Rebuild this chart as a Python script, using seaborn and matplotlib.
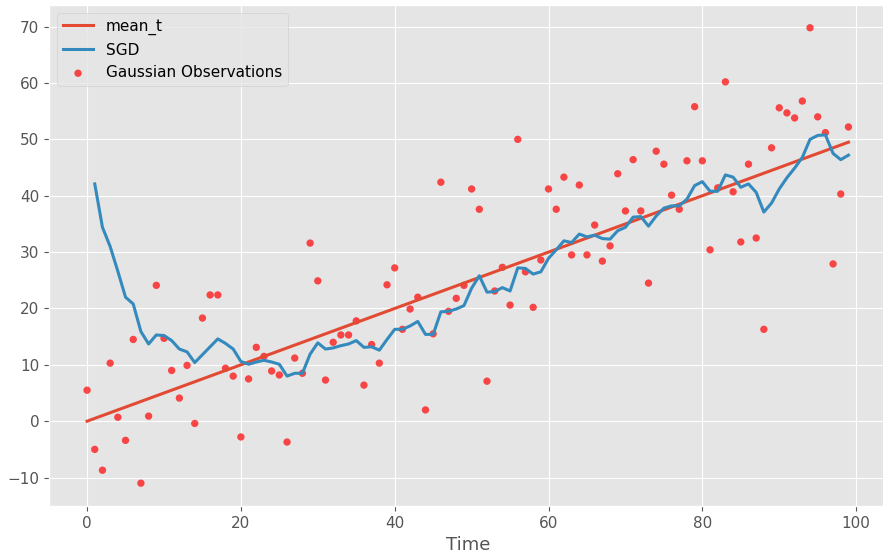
"""
SGD tracking of a drifting mean vs gaussian observations
"""
import numpy as np
import matplotlib
matplotlib.use('Agg')
import matplotlib.pyplot as plt
import seaborn as sns

# time axis
t_obs = list(range(100))
t_sgd = list(range(1, 100))

# mean_t line (straight, endpoints)
mean_t_x = [0, 99]
mean_t_y = [0.0, 49.5]

# gaussian observations
obs = [5.5, -5.0, -8.7, 10.3, 0.7, -3.4, 14.5, -11.0, 0.9, 24.1,
       14.7, 9.0, 4.1, 9.9, -0.4, 18.3, 22.4, 22.4, 9.4, 8.0,
       -2.8, 7.5, 13.1, 11.5, 8.9, 8.2, -3.7, 11.2, 8.5, 31.6,
       24.9, 7.3, 14.0, 15.3, 15.3, 17.8, 6.4, 13.6, 10.3, 24.2,
       27.2, 16.3, 19.9, 22.0, 2.0, 15.5, 42.4, 19.5, 21.8, 24.1,
       41.2, 37.6, 7.1, 23.1, 27.3, 20.6, 50.0, 26.5, 20.2, 28.6,
       41.2, 37.6, 43.3, 29.5, 41.9, 29.5, 34.8, 28.4, 31.1, 43.9,
       37.3, 46.4, 37.3, 24.5, 47.9, 45.6, 40.1, 37.6, 46.2, 55.8,
       46.2, 30.4, 41.4, 60.2, 40.7, 31.8, 45.6, 32.5, 16.3, 48.5,
       55.6, 54.7, 53.8, 56.8, 69.8, 54.0, 51.2, 27.9, 40.3, 52.2]

# SGD estimate, starts at t=1
sgd = [42.1, 34.4, 31.0, 26.6, 22.0, 20.8, 15.9, 13.7, 15.3,
       15.2, 14.3, 12.8, 12.3, 10.4, 11.8, 13.2, 14.6, 13.8, 12.8,
       10.6, 10.1, 10.5, 10.8, 10.5, 10.1, 8.0, 8.5, 8.5, 11.9,
       13.9, 12.8, 13.0, 13.4, 13.7, 14.3, 13.1, 13.2, 12.6, 14.5,
       16.3, 16.3, 16.9, 17.7, 15.4, 15.4, 19.4, 19.5, 19.9, 20.5,
       23.6, 25.8, 22.9, 23.0, 23.7, 23.1, 27.2, 27.1, 26.1, 26.5,
       28.9, 30.4, 32.0, 31.7, 33.2, 32.7, 33.0, 32.4, 32.3, 33.8,
       34.4, 36.2, 36.3, 34.6, 36.4, 37.8, 38.2, 38.2, 39.4, 41.8,
       42.5, 40.8, 40.8, 43.7, 43.3, 41.5, 42.1, 40.6, 37.1, 38.7,
       41.2, 43.2, 44.9, 46.8, 50.0, 50.7, 50.8, 47.5, 46.4, 47.2]

plt.style.use('ggplot')

fig = plt.figure(figsize=(8.83, 5.56), dpi=100)
ax = fig.add_axes([0.0555, 0.09, 0.9485, 0.901])

sns.lineplot(x=mean_t_x, y=mean_t_y, ax=ax, color='#E24A33', linewidth=2.2, label='mean_t')
sns.lineplot(x=t_sgd, y=sgd, ax=ax, color='#348ABD', linewidth=2.2, label='SGD')
sns.scatterplot(x=t_obs, y=obs, ax=ax, color='red', alpha=0.7, s=28, edgecolor='none',
                label='Gaussian Observations')

ax.set_xlim(-4.95, 103.95)
ax.set_ylim(-15.04, 73.84)
ax.set_xticks([0, 20, 40, 60, 80, 100])
ax.set_yticks([-10, 0, 10, 20, 30, 40, 50, 60, 70])
ax.tick_params(labelsize=11)
ax.set_xlabel('Time', fontsize=13)
ax.set_ylabel('')

ax.legend(loc='upper left', fontsize=11)

plt.savefig('out.png', dpi=100)
